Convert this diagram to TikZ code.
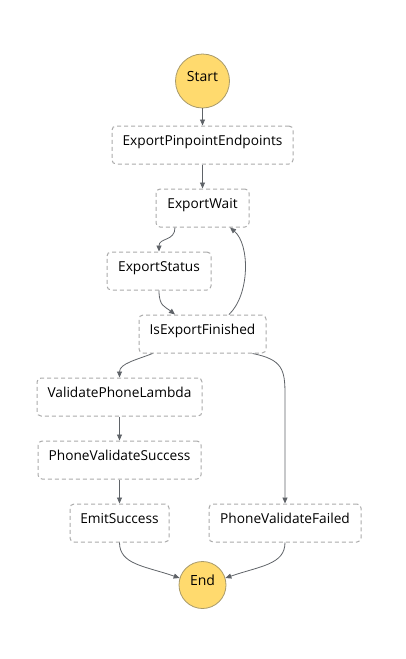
\documentclass[tikz,border=0pt]{standalone}
\usepackage{fontspec}
\setmainfont{Open Sans}
\usetikzlibrary{arrows.meta}
\definecolor{stateyellow}{HTML}{FFDA6E}
\definecolor{circborder}{HTML}{A89A6A}
\definecolor{boxborder}{HTML}{AAAAAA}
\definecolor{edgecol}{HTML}{5F6368}
\definecolor{txt}{HTML}{000000}
\tikzset{
  statebox/.style={draw=boxborder, line width=1pt, dash pattern=on 4pt off 3pt, rounded corners=4pt,
    minimum height=38pt, inner sep=0pt, text height=10pt, text depth=9.5pt,
    font=\fontsize{13.7}{15}\selectfont, text=txt},
  termcirc/.style={circle, draw=circborder, line width=0.8pt, fill=stateyellow, inner sep=0pt,
    text height=10pt, text depth=9.5pt, font=\fontsize{14}{15}\selectfont, text=txt},
  arr/.style={draw=edgecol, line width=0.8pt, -{Triangle[length=6pt,width=5pt]}},
}
\begin{document}
\begin{tikzpicture}[x=1pt, y=-1pt]
\useasboundingbox (0,0) rectangle (405,659);
\node[termcirc, minimum size=54pt] (start) at (202.5,81) {Start};
\node[statebox, minimum width=181pt] (epe) at (202.5,145) {ExportPinpointEndpoints};
\node[statebox, minimum width=93pt] (ew) at (202.5,208) {ExportWait};
\node[statebox, minimum width=104pt] (es) at (159,271) {ExportStatus};
\node[statebox, minimum width=127pt] (ief) at (202.5,334) {IsExportFinished};
\node[statebox, minimum width=165pt] (vpl) at (119.5,397) {ValidatePhoneLambda};
\node[statebox, minimum width=163pt] (pvs) at (119.5,460) {PhoneValidateSuccess};
\node[statebox, minimum width=99pt] (emit) at (119.5,523) {EmitSuccess};
\node[statebox, minimum width=152pt] (pvf) at (285,523) {PhoneValidateFailed};
\node[termcirc, minimum size=47pt] (end) at (202.5,585) {End};

\draw[arr] (start.south) -- (epe.north);
\draw[arr] (epe.south) -- (ew.north);
\draw[arr] ([xshift=-27.5pt]ew.south) .. controls +(0,14) and +(0,-14) .. (es.north);
\draw[arr] (es.south) .. controls +(0,16) and +(-10,-8) .. ([xshift=-27.5pt]ief.north);
\draw[arr] ([xshift=26.5pt]ief.north) .. controls +(21,-20) and +(20,17) .. ([xshift=27.5pt]ew.south);
\draw[arr] ([xshift=-50pt]ief.south) .. controls +(-15,6) and +(0,-14) .. (vpl.north);
\draw[arr] ([xshift=50pt]ief.south) .. controls +(30,6) and +(0,-25) .. ([yshift=109pt]pvf.north) -- (pvf.north);
\draw[arr] (vpl.south) -- (pvs.north);
\draw[arr] (pvs.south) -- (emit.north);
\draw[arr] (emit.south) .. controls +(0,22) and +(-35,-12) .. (end.163);
\draw[arr] (pvf.south) .. controls +(0,22) and +(35,-12) .. (end.17);
\end{tikzpicture}
\end{document}
